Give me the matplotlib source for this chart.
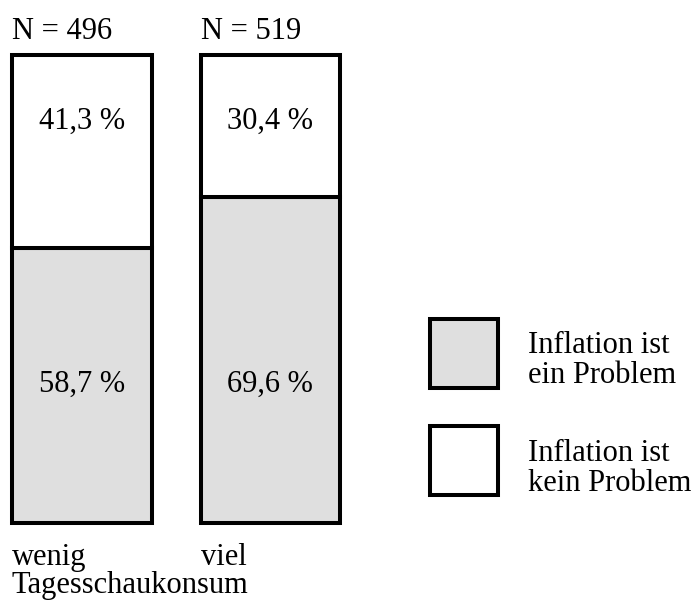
import matplotlib
matplotlib.use('Agg')
from matplotlib import pyplot as plt
from matplotlib.patches import Rectangle

# data
groups = ['wenig', 'viel']
nCases = [496, 519]
problem = [58.7, 69.6]      # Inflation ist ein Problem
noProblem = [41.3, 30.4]    # Inflation ist kein Problem
legendLabels = ['Inflation ist\nein Problem', 'Inflation ist\nkein Problem']
xLabel = 'Tagesschaukonsum'

W, H = 695, 606
grey = '#dfdfdf'
lw = 2.9
fs = 22

plt.rcParams['font.family'] = ['Liberation Serif', 'DejaVu Serif']

fg = plt.figure(figsize=(W/100., H/100.), dpi=100)

def px(x, y):
  # pixel position (from top left) to figure fraction
  return x/W, 1 - y/H

# bar axes: x from 12 to 342 px, y from 523 (0 %) to 55 (100 %)
x0, y0 = px(12, 523)
x1, y1 = px(342, 55)
ax = fg.add_axes([x0, y0, x1 - x0, y1 - y0])
pos = [0, 1]
wd = 0.74
ax.bar(pos, problem, wd, color=grey, edgecolor='k', linewidth=lw, clip_on=False)
ax.bar(pos, noProblem, wd, bottom=problem, color='white', edgecolor='k', linewidth=lw, clip_on=False)
ax.set_xlim(-wd/2, 1 + wd/2 + 0.01)
ax.set_ylim(0, 100)
ax.axis('off')

for p, a, b, n in zip(pos, problem, noProblem, nCases):
  ax.text(p, 28.0, ('%.1f %%' % a).replace('.', ','), ha='center', va='baseline', fontsize=fs)
  ax.text(p, 84.2, ('%.1f %%' % b).replace('.', ','), ha='center', va='baseline', fontsize=fs)
  ax.text(p - wd/2, 103.4, 'N = %d' % n, ha='left', va='baseline', fontsize=fs, clip_on=False)

# group labels under the bars
for p, g in zip(pos, groups):
  xf = ax.transData.transform((p - wd/2, 0))[0]/fg.bbox.width
  fg.text(xf, 1 - 565./H, g, ha='left', va='baseline', fontsize=fs)
fg.text(12./W, 1 - 593./H, xLabel, ha='left', va='baseline', fontsize=fs)

# legend
boxTops = [319, 426]
textBase = [383, 491]   # baseline of the last line of each label
for c, top, tb, lbl in zip([grey, 'white'], boxTops, textBase, legendLabels):
  bx, by = px(430, top + 69)
  fg.add_artist(Rectangle((bx, by), 68./W, 69./H, transform=fg.transFigure,
                          facecolor=c, edgecolor='k', linewidth=lw))
  fg.text(528./W, 1 - tb/H, lbl, ha='left', va='baseline', fontsize=fs,
          linespacing=1.05, transform=fg.transFigure)

fg.savefig('out.png', dpi=100)
